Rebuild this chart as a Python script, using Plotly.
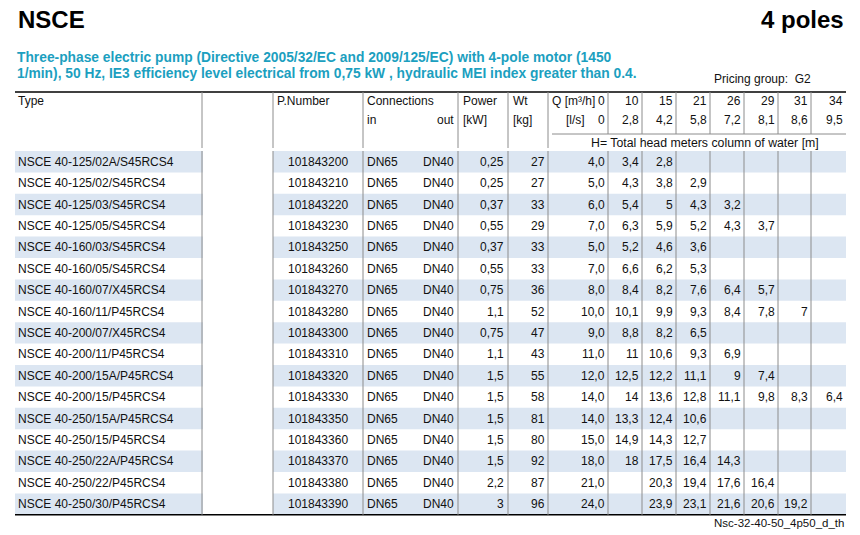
import plotly.graph_objects as go

# pump table data
types = [
    "NSCE 40-125/02A/S45RCS4", "NSCE 40-125/02/S45RCS4", "NSCE 40-125/03/S45RCS4",
    "NSCE 40-125/05/S45RCS4", "NSCE 40-160/03/S45RCS4", "NSCE 40-160/05/S45RCS4",
    "NSCE 40-160/07/X45RCS4", "NSCE 40-160/11/P45RCS4", "NSCE 40-200/07/X45RCS4",
    "NSCE 40-200/11/P45RCS4", "NSCE 40-200/15A/P45RCS4", "NSCE 40-200/15/P45RCS4",
    "NSCE 40-250/15A/P45RCS4", "NSCE 40-250/15/P45RCS4", "NSCE 40-250/22A/P45RCS4",
    "NSCE 40-250/22/P45RCS4", "NSCE 40-250/30/P45RCS4",
]
part_numbers = [
    101843200, 101843210, 101843220, 101843230, 101843250, 101843260, 101843270,
    101843280, 101843300, 101843310, 101843320, 101843330, 101843350, 101843360,
    101843370, 101843380, 101843390,
]
conn_in = ["DN65", "DN65", "DN65", "DN65", "DN65", "DN65", "DN65", "DN65", "DN65",
           "DN65", "DN65", "DN65", "DN65", "DN65", "DN65", "DN65", "DN65"]
conn_out = ["DN40", "DN40", "DN40", "DN40", "DN40", "DN40", "DN40", "DN40", "DN40",
            "DN40", "DN40", "DN40", "DN40", "DN40", "DN40", "DN40", "DN40"]
power_kw = [0.25, 0.25, 0.37, 0.55, 0.37, 0.55, 0.75, 1.1, 0.75, 1.1, 1.5, 1.5, 1.5, 1.5, 1.5, 2.2, 3]
weight_kg = [27, 27, 33, 29, 33, 33, 36, 52, 47, 43, 55, 58, 81, 80, 92, 87, 96]

flow_m3h = [0, 10, 15, 21, 26, 29, 31, 34]
flow_ls = [0, 2.8, 4.2, 5.8, 7.2, 8.1, 8.6, 9.5]

# total head [m] per pump at each flow point
head_m = [
    [4.0, 3.4, 2.8, None, None, None, None, None],
    [5.0, 4.3, 3.8, 2.9, None, None, None, None],
    [6.0, 5.4, 5, 4.3, 3.2, None, None, None],
    [7.0, 6.3, 5.9, 5.2, 4.3, 3.7, None, None],
    [5.0, 5.2, 4.6, 3.6, None, None, None, None],
    [7.0, 6.6, 6.2, 5.3, None, None, None, None],
    [8.0, 8.4, 8.2, 7.6, 6.4, 5.7, None, None],
    [10.0, 10.1, 9.9, 9.3, 8.4, 7.8, 7, None],
    [9.0, 8.8, 8.2, 6.5, None, None, None, None],
    [11.0, 11, 10.6, 9.3, 6.9, None, None, None],
    [12.0, 12.5, 12.2, 11.1, 9, 7.4, None, None],
    [14.0, 14, 13.6, 12.8, 11.1, 9.8, 8.3, 6.4],
    [14.0, 13.3, 12.4, 10.6, None, None, None, None],
    [15.0, 14.9, 14.3, 12.7, None, None, None, None],
    [18.0, 18, 17.5, 16.4, 14.3, None, None, None],
    [21.0, None, 20.3, 19.4, 17.6, 16.4, None, None],
    [24.0, None, 23.9, 23.1, 21.6, 20.6, 19.2, None],
]

FONT = "Liberation Sans, Arial, Helvetica, sans-serif"
TEAL = "#1c9fbf"
STRIPE = "#dce6f2"
GRID = "#8c8c8c"
INK = "#111111"

# column edges in page pixels
LEFT, TYPE_R, BLANK_R, PN_R, CONN_R, PWR_R, WT_R = 15, 202, 273, 363, 458, 508, 548
q_right = [608, 642, 676, 710, 744, 778, 811, 846]
RIGHT = q_right[-1]
TOP, HEAD_SPLIT, HEAD_BOT, DATA_TOP, ROW_H = 92, 134, 148, 151, 21.4
DATA_BOT = DATA_TOP + ROW_H * len(types)


def fmt(v, dec=None):
    if v is None:
        return ""
    s = f"{v:.{dec}f}" if dec is not None else f"{v:g}"
    return s.replace(".", ",")


annotations = []


def txt(x, y, s, anchor="left", size=12, color=INK):
    annotations.append(dict(
        x=x, y=y, xref="x", yref="y", text=s, showarrow=False,
        xanchor=anchor, yanchor="middle", borderpad=0,
        font=dict(family=FONT, size=size, color=color),
    ))


shapes = []


def line(x0, y0, x1, y1, color=GRID, width=1):
    shapes.append(dict(type="line", x0=x0, y0=y0, x1=x1, y1=y1, xref="x", yref="y",
                       line=dict(color=color, width=width)))


# striped rows
for i in range(len(types)):
    if i % 2 == 0:
        y0 = DATA_TOP + ROW_H * i
        for x0, x1 in [(LEFT, TYPE_R + 1), (BLANK_R, RIGHT)]:
            shapes.append(dict(type="rect", x0=x0, x1=x1, y0=y0, y1=y0 + ROW_H,
                               xref="x", yref="y", fillcolor=STRIPE, line=dict(width=0),
                               layer="below"))

# rules
line(LEFT, TOP, RIGHT, TOP, color="#000000", width=1.5)
line(LEFT, DATA_BOT, RIGHT, DATA_BOT, color="#000000", width=1.5)
line(WT_R + 4, HEAD_SPLIT, RIGHT, HEAD_SPLIT)
for x in [TYPE_R, BLANK_R, PN_R, CONN_R, PWR_R, WT_R]:
    line(x, TOP, x, HEAD_BOT)
    line(x, DATA_TOP, x, DATA_BOT)
for x in q_right[:-1]:
    line(x, TOP, x, HEAD_SPLIT)
    line(x, DATA_TOP, x, DATA_BOT)

# titles
txt(17, 19, "<b>NSCE</b>", size=24, color="#000000")
txt(845, 19, "<b>4 poles</b>", anchor="right", size=24, color="#000000")
txt(16, 57, "<b>Three-phase electric pump (Directive 2005/32/EC and 2009/125/EC) with 4-pole motor (1450</b>",
    size=13.8, color=TEAL)
txt(16, 73, "<b>1/min), 50 Hz, IE3 efficiency level electrical from 0,75 kW , hydraulic MEI index greater than 0.4.</b>",
    size=13.8, color=TEAL)
txt(713, 79, "Pricing group:  G2")
txt(845, 523, "Nsc-32-40-50_4p50_d_th", anchor="right", size=11.5)

# header
H1, H2, H3 = 101, 120, 143
txt(17, H1, "Type")
txt(276, H1, "P.Number")
txt(366, H1, "Connections")
txt(366, H2, "in")
txt(CONN_R - 3, H2, "out", anchor="right")
txt(462, H1, "Power")
txt(462, H2, "[kW]")
txt(512, H1, "Wt")
txt(512, H2, "[kg]")
txt(551, H1, "Q [m³/h]")
txt(565, H2, "[l/s]")
for xr, q, l in zip(q_right, flow_m3h, flow_ls):
    txt(xr - 2, H1, fmt(q), anchor="right")
    txt(xr - 2, H2, fmt(l), anchor="right")
txt(705, H3, "H= Total head meters column of water [m]", anchor="center", size=12.3)

# body
for i, name in enumerate(types):
    y = DATA_TOP + ROW_H * (i + 0.5)
    txt(17, y, name)
    txt((BLANK_R + PN_R) / 2, y, str(part_numbers[i]), anchor="center")
    txt(366, y, conn_in[i])
    txt(CONN_R - 3, y, conn_out[i], anchor="right")
    txt(PWR_R - 3, y, fmt(power_kw[i]), anchor="right")
    txt(WT_R - 2, y, str(weight_kg[i]), anchor="right")
    for j, v in enumerate(head_m[i]):
        txt(q_right[j] - 2, y, fmt(v, 1 if j == 0 else None), anchor="right")

fig = go.Figure(go.Scatter(x=[], y=[], mode="markers", hoverinfo="skip"))
fig.update_layout(
    width=860, height=535,
    margin=dict(l=0, r=0, t=0, b=0),
    paper_bgcolor="white", plot_bgcolor="white",
    showlegend=False,
    xaxis=dict(range=[0, 860], visible=False, fixedrange=True),
    yaxis=dict(range=[535, 0], visible=False, fixedrange=True),
    shapes=shapes,
    annotations=annotations,
)
fig.write_html("out.html", config={"displayModeBar": False},
               post_script="document.body.style.margin='0';document.body.style.overflow='hidden';")
